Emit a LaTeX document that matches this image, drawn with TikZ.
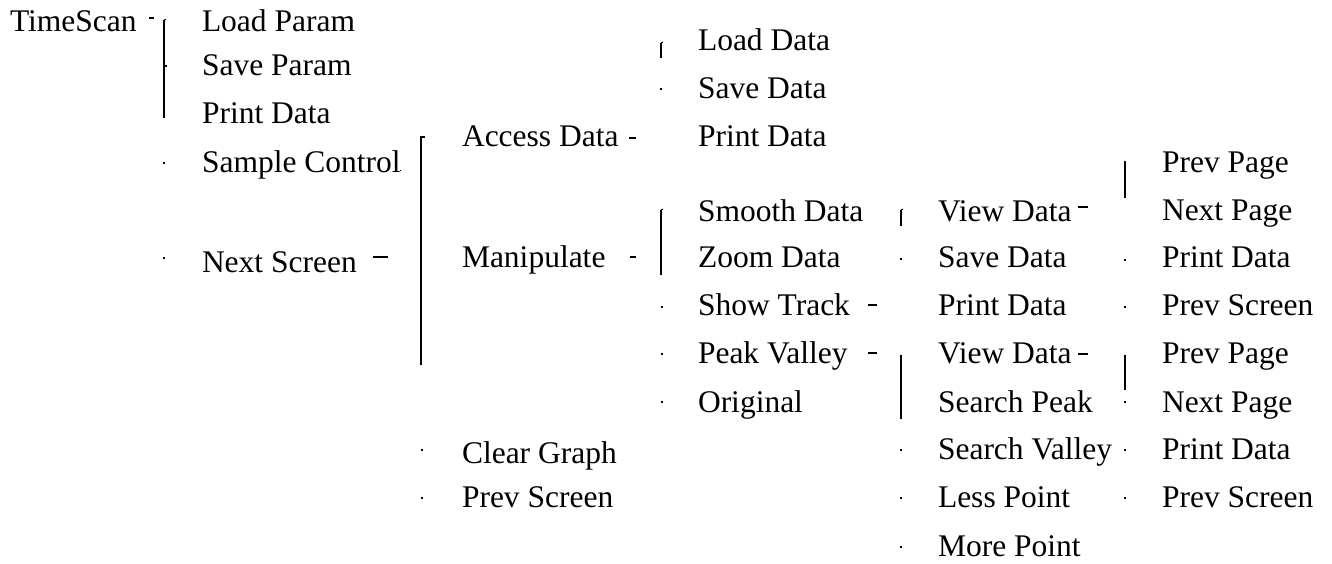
\documentclass[tikz,border=0pt]{standalone}
\usepackage{fontspec}
\setmainfont{Liberation Serif}
\tikzset{
  lbl/.style={anchor=base west, inner sep=0pt, outer sep=0pt, font=\fontsize{31.5}{36}\selectfont},
  vbar/.style={line width=2.2pt, line cap=butt},
  dashmark/.style={line width=2pt, line cap=butt},
}
\newcommand{\dotmark}[2]{\fill (#1-1,#2-1) rectangle (#1+1,#2+1);}
\begin{document}
\begin{tikzpicture}[x=1pt,y=-1pt]
\useasboundingbox (0,0) rectangle (1332,564);
% column 1
\node[lbl] (ts) at (10,32) {TimeScan};
% column 2
\node[lbl] (lp) at (202,32) {Load Param};
\node[lbl] (sp) at (202,76) {Save Param};
\node[lbl] (pd1) at (202,124) {Print Data};
\node[lbl] (sc) at (202,172) {Sample Control};
\node[lbl] (ns) at (202,272) {Next Screen};
% column 3
\node[lbl] (ad) at (462,147) {Access Data};
\node[lbl] (mp) at (462,267) {Manipulate};
\node[lbl] (cg) at (462,463) {Clear Graph};
\node[lbl] (ps1) at (462,507) {Prev Screen};
% column 4
\node[lbl] (ld) at (698,51) {Load Data};
\node[lbl] (sd1) at (698,99) {Save Data};
\node[lbl] (pd2) at (698,147) {Print Data};
\node[lbl] (smd) at (698,221) {Smooth Data};
\node[lbl] (zd) at (698,267) {Zoom Data};
\node[lbl] (st) at (698,315) {Show Track};
\node[lbl] (pv) at (698,363) {Peak Valley};
\node[lbl] (og) at (698,412) {Original};
% column 5
\node[lbl] (vd1) at (938,222) {View Data};
\node[lbl] (sd2) at (938,267) {Save Data};
\node[lbl] (pd3) at (938,315) {Print Data};
\node[lbl] (vd2) at (938,363) {View Data};
\node[lbl] (spk) at (938,412) {Search Peak};
\node[lbl] (svl) at (938,459) {Search Valley};
\node[lbl] (lpt) at (938,507) {Less Point};
\node[lbl] (mpt) at (938,556) {More Point};
% column 6
\node[lbl] (pp1) at (1162,173) {Prev Page};
\node[lbl] (np1) at (1162,220) {Next Page};
\node[lbl] (pd4) at (1162,267) {Print Data};
\node[lbl] (ps2) at (1162,315) {Prev Screen};
\node[lbl] (pp2) at (1162,363) {Prev Page};
\node[lbl] (np2) at (1162,412) {Next Page};
\node[lbl] (pd5) at (1162,459) {Print Data};
\node[lbl] (ps3) at (1162,507) {Prev Screen};

% fragments of brackets and markers
\draw[dashmark] (149,18) -- (154,18);
\draw[vbar] (164,20) -- (164,118);
\draw[line width=1pt] (164,20) -- (166,19.5);
\draw[line width=1.2pt] (165,66) -- (166.5,66);
\dotmark{164}{163}
\dotmark{164}{258}
\draw[dashmark] (373,257) -- (388,257);

\draw[vbar] (421,137) -- (421,365);
\draw[line width=2pt] (420,137.5) -- (425,137.5);
\fill (399.5,170.5) rectangle (400.5,171.5);
\dotmark{422}{450}
\dotmark{422}{498}

\draw[dashmark] (629,138) -- (636,138);
\draw[dashmark] (630,257) -- (636,257);
\draw[vbar] (661,43) -- (661,58);
\draw[line width=1pt] (661,43) -- (663,42);
\dotmark{661}{89}
\draw[vbar] (661,210) -- (661,275);
\draw[line width=1pt] (661,210) -- (663,209);
\dotmark{662}{307}
\dotmark{662}{354}
\dotmark{662}{402}

\draw[dashmark] (868,305) -- (877,305);
\draw[dashmark] (868,353) -- (877,353);
\draw[vbar] (901,210) -- (901,226);
\draw[line width=1pt] (901,210) -- (903,209);
\dotmark{901}{259}
\draw[vbar] (901,355) -- (901,419);
\draw[line width=1.2pt] (899.5,402) -- (901,402);
\dotmark{901}{450}
\dotmark{901}{498}
\dotmark{901}{547}

\draw[dashmark] (1078,207) -- (1088,207);
\draw[dashmark] (1078,354) -- (1088,354);
\draw[vbar] (1125,161) -- (1125,198);
\draw[vbar] (1125,355) -- (1125,390);
\dotmark{1125}{260}
\dotmark{1125}{307}
\dotmark{1125}{402}
\dotmark{1125}{450}
\dotmark{1125}{498}
\end{tikzpicture}
\end{document}
